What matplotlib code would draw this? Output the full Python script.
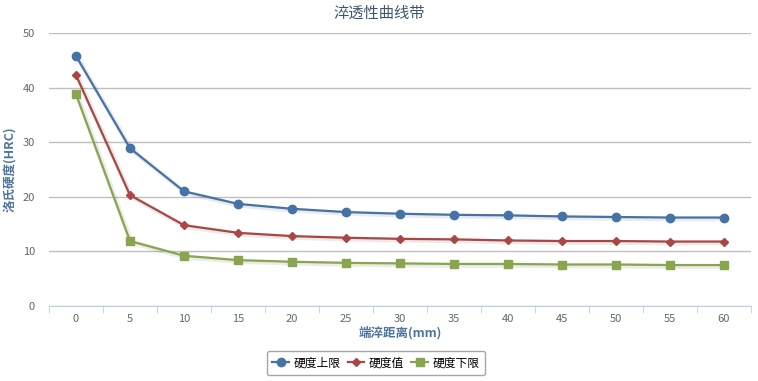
import numpy as np
import matplotlib.pyplot as plt
import matplotlib.patheffects as pe
from matplotlib.lines import Line2D

plt.rcParams['font.family'] = ['Noto Sans CJK SC', 'DejaVu Sans']

# 数据
distance = ['0', '5', '10', '15', '20', '25', '30', '35', '40', '45', '50', '55', '60']
upper = [45.8, 28.9, 21.0, 18.7, 17.8, 17.2, 16.9, 16.7, 16.6, 16.4, 16.3, 16.2, 16.2]
value = [42.3, 20.3, 14.8, 13.4, 12.8, 12.5, 12.3, 12.2, 12.0, 11.9, 11.9, 11.8, 11.8]
lower = [38.8, 11.9, 9.2, 8.4, 8.1, 7.9, 7.8, 7.7, 7.7, 7.6, 7.6, 7.5, 7.5]

fig = plt.figure(figsize=(7.58, 3.81), dpi=100)
ax = fig.add_axes([49 / 758, 1 - 306 / 381, 702 / 758, 273 / 381])

x = np.arange(len(distance))
shadow = [pe.SimpleLineShadow(offset=(1, -1), shadow_color='black', alpha=0.08, linewidth=3.5), pe.Normal()]

series = [
    (upper, '#4572A7', 'o', 6, '硬度上限'),
    (value, '#AA4643', 'D', 4.5, '硬度值'),
    (lower, '#89A54E', 's', 6, '硬度下限'),
]
handles = []
for y, c, m, ms, name in series:
    # 线条带阴影，标记单独画
    ax.plot(x, y, color=c, lw=1.6, path_effects=shadow, zorder=3)
    ax.plot(x, y, ls='none', marker=m, ms=ms, color=c, zorder=4)
    handles.append(Line2D([], [], color=c, lw=1.6, marker=m, ms=ms, label=name))

ax.set_xlim(-0.5, len(distance) - 0.5)
ax.set_ylim(0, 50)
ax.set_yticks(range(0, 51, 10))
ax.set_xticks(x)
ax.set_xticklabels(distance)
ax.set_xticks(np.arange(-0.5, len(distance), 1), minor=True)
ax.tick_params(axis='x', which='major', length=0, pad=6, labelsize=8, labelcolor='#666666')
ax.tick_params(axis='x', which='minor', length=5, color='#C0D0E0', direction='out')
ax.tick_params(axis='y', length=0, pad=10, labelsize=8, labelcolor='#666666')

ax.grid(axis='y', color='#C0C0C0', lw=1)
ax.set_axisbelow(True)
for s in ['top', 'right', 'left']:
    ax.spines[s].set_visible(False)
ax.spines['bottom'].set_color('#C0D0E0')

ax.set_xlabel('端淬距离(mm)', color='#4d759e', fontweight='bold', fontsize=9, labelpad=1)
ax.set_ylabel('洛氏硬度(HRC)', color='#4d759e', fontweight='bold', fontsize=9, labelpad=4)
fig.text(0.5, 1 - 13 / 381, '淬透性曲线带', ha='center', va='center', fontsize=11, color='#3E576F')

leg = ax.legend(handles=handles, loc='center', bbox_to_anchor=(376 / 758, 1 - 363 / 381),
                bbox_transform=fig.transFigure, ncol=3, fontsize=8.5, frameon=True, fancybox=True,
                edgecolor='#909090', handlelength=1.4, handletextpad=0.4, columnspacing=0.6,
                borderpad=0.5)
leg.get_frame().set_linewidth(1)

fig.savefig('out.png', dpi=100)
